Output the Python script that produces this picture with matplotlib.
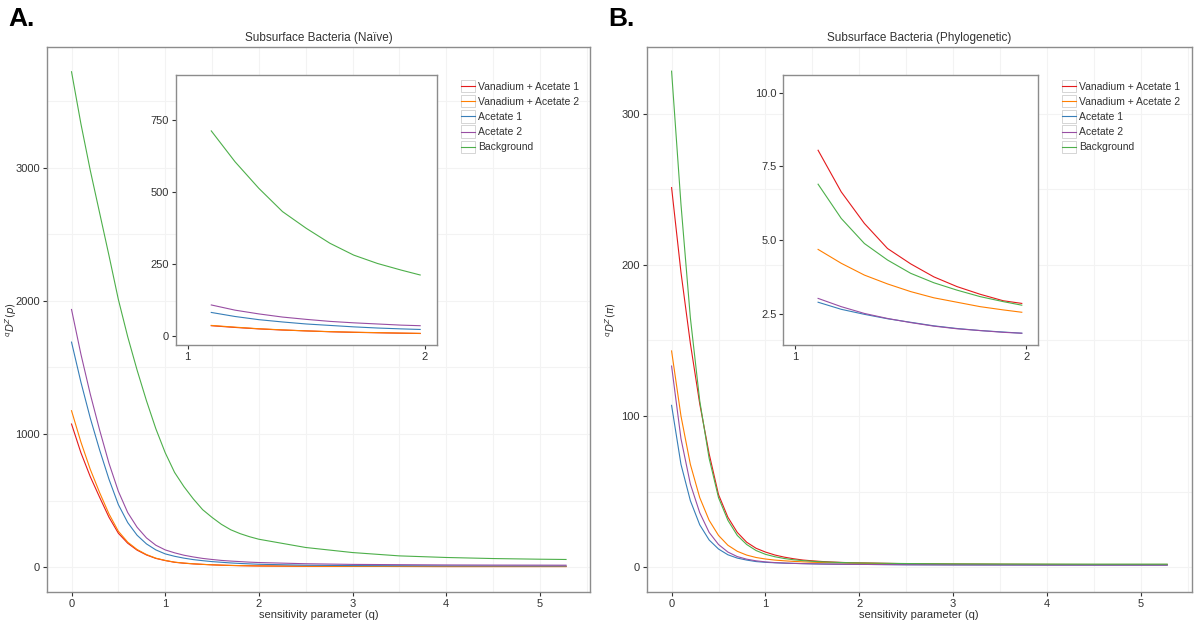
import numpy as np
import matplotlib
matplotlib.use("Agg")
import matplotlib.pyplot as plt
from matplotlib.ticker import MultipleLocator
from matplotlib.legend_handler import HandlerLine2D
from matplotlib.patches import Rectangle

plt.rcParams['font.family'] = ['Liberation Sans', 'DejaVu Sans']

# sensitivity parameter grid
Q = [0, 0.1, 0.2, 0.3, 0.4, 0.5, 0.6, 0.7, 0.8, 0.9, 1.0,
     1.1, 1.2, 1.3, 1.4, 1.5, 1.6, 1.7, 1.8, 1.9, 2.0,
     2.5, 3.0, 3.5, 4.0, 4.5, 5.0, 5.28]
Q_INSET = [1.1, 1.2, 1.3, 1.4, 1.5, 1.6, 1.7, 1.8, 1.9, 1.98]

SERIES = ['Vanadium + Acetate 1', 'Vanadium + Acetate 2', 'Acetate 1', 'Acetate 2', 'Background']
COLORS = ['#E41A1C', '#FF7F00', '#377EB8', '#984EA3', '#4DAF4A']

# A. naive diversity
naive_va1 = [1075, 860, 680, 525, 375, 255, 180, 128, 92, 66, 50,
             37, 30, 25, 21, 18, 15, 13, 11.5, 10.5, 9.5, 7, 6, 5.5, 5, 5, 5, 5]
naive_va2 = [1175, 940, 735, 560, 400, 270, 188, 133, 95, 68, 51,
             38, 31, 25.5, 21.5, 18, 15.5, 13.5, 12, 10.5, 9.5, 7, 6, 5.5, 5, 5, 5, 5]
naive_a1 = [1690, 1390, 1120, 880, 660, 470, 335, 240, 175, 130, 100,
            82, 68, 57, 49, 42, 37, 32, 28, 25, 22, 15, 12, 11, 10, 9.5, 9, 9]
naive_a2 = [1935, 1600, 1300, 1030, 780, 570, 410, 300, 220, 165, 130,
            108, 90, 77, 66, 58, 51, 46, 42, 38, 35, 26, 21, 19, 17, 16, 15.5, 15]
naive_bg = [3720, 3330, 2980, 2660, 2340, 2010, 1730, 1480, 1250, 1040, 860,
            712, 605, 513, 432, 374, 322, 281, 252, 229, 210, 148, 110, 85, 73, 65, 60, 58]

# B. phylogenetic diversity
phylo_va1 = [251, 195, 148, 108, 75, 48, 33, 23, 16.5, 12.5, 10.0,
             8.05, 6.64, 5.57, 4.72, 4.2, 3.76, 3.43, 3.17, 2.95, 2.84, 2.3, 2.0, 1.85, 1.75, 1.7, 1.65, 1.63]
phylo_va2 = [143, 100, 68, 46, 31, 21, 14.5, 10.5, 8.0, 6.4, 5.4,
             4.69, 4.22, 3.82, 3.52, 3.26, 3.05, 2.9, 2.75, 2.64, 2.55, 2.2, 2.0, 1.9, 1.85, 1.8, 1.8, 1.8]
phylo_a1 = [107, 68, 44, 28, 18, 12, 8.2, 6.0, 4.7, 3.7, 3.2,
            2.9, 2.66, 2.49, 2.34, 2.22, 2.1, 2.01, 1.94, 1.89, 1.85, 1.6, 1.5, 1.45, 1.4, 1.4, 1.4, 1.4]
phylo_a2 = [133, 85, 55, 36, 23, 15, 10, 7.0, 5.3, 4.2, 3.5,
            3.03, 2.75, 2.52, 2.35, 2.21, 2.09, 2.0, 1.94, 1.88, 1.85, 1.6, 1.5, 1.45, 1.4, 1.4, 1.4, 1.4]
phylo_bg = [328, 240, 165, 110, 72, 46, 31, 21, 15, 11, 8.5,
            6.9, 5.74, 4.89, 4.33, 3.88, 3.56, 3.31, 3.09, 2.92, 2.79, 2.4, 2.2, 2.1, 2.05, 2.0, 2.0, 2.0]

# inset readings, q = 1.1 .. 1.98
ins_naive_va1 = [36, 30, 25, 21, 18, 15, 13, 11.5, 10, 9]
ins_naive_va2 = [37, 31, 25.5, 21.5, 18, 15.5, 13.5, 12, 10.5, 9.5]
ins_naive_a1 = [82, 68, 57, 49, 42, 37, 32, 28, 25, 23]
ins_naive_a2 = [108, 90, 77, 66, 58, 51, 46, 42, 38, 36]
ins_naive_bg = [712, 605, 513, 432, 374, 322, 281, 252, 229, 212]

ins_phylo_va1 = [8.05, 6.64, 5.57, 4.72, 4.2, 3.76, 3.43, 3.17, 2.95, 2.86]
ins_phylo_va2 = [4.69, 4.22, 3.82, 3.52, 3.26, 3.05, 2.9, 2.75, 2.64, 2.56]
ins_phylo_a1 = [2.9, 2.66, 2.49, 2.34, 2.22, 2.1, 2.01, 1.94, 1.89, 1.85]
ins_phylo_a2 = [3.03, 2.75, 2.52, 2.35, 2.21, 2.09, 2.0, 1.94, 1.88, 1.85]
ins_phylo_bg = [6.9, 5.74, 4.89, 4.33, 3.88, 3.56, 3.31, 3.09, 2.92, 2.80]

BORDER = '#8c8c8c'
GRID = '#f3f3f3'
TXT = '#333333'


class BoxedLine(HandlerLine2D):
    # ggplot-style legend key: line inside a light grey box
    def create_artists(self, legend, orig_handle, xdescent, ydescent, width, height, fontsize, trans):
        arts = super().create_artists(legend, orig_handle, xdescent, ydescent, width, height, fontsize, trans)
        h = height * 1.7
        box = Rectangle((-xdescent, -ydescent - (h - height) / 2), width, h,
                        fc='white', ec='#cfcfcf', lw=0.6, transform=trans)
        return [box] + arts


def style(ax, fs=8):
    for s in ax.spines.values():
        s.set_color(BORDER); s.set_linewidth(1.0)
    ax.tick_params(colors=TXT, labelsize=fs, length=3, width=0.8, pad=2, which='major')
    ax.tick_params(which='minor', length=0)


def main_panel(ax, series, title, ylab, ylim, ystep):
    for ys, c, lab in zip(series, COLORS, SERIES):
        ax.plot(Q, ys, color=c, lw=0.8, label=lab)
    ax.set_xlim(-0.264, 5.54); ax.set_ylim(*ylim)
    ax.xaxis.set_major_locator(MultipleLocator(1)); ax.xaxis.set_minor_locator(MultipleLocator(0.5))
    ax.yaxis.set_major_locator(MultipleLocator(ystep)); ax.yaxis.set_minor_locator(MultipleLocator(ystep / 2))
    ax.grid(True, which='both', color=GRID, lw=0.8); ax.set_axisbelow(True)
    style(ax)
    ax.set_title(title, fontsize=8.5, color=TXT, pad=4)
    ax.set_xlabel('sensitivity parameter (q)', fontsize=8, color=TXT, labelpad=1)
    ax.set_ylabel(ylab, fontsize=7.5, color=TXT)
    ax.yaxis.set_label_coords(-0.052, 0.5)
    leg = ax.legend(loc='upper left', bbox_to_anchor=(0.755, 0.944), frameon=False, fontsize=7.5,
                    handlelength=1.3, handletextpad=0.3, labelspacing=0.5, borderaxespad=0,
                    handler_map={matplotlib.lines.Line2D: BoxedLine()})
    for t in leg.get_texts():
        t.set_color(TXT)


def inset(fig, rect, series, ylim, yticks, ylabels):
    ax = fig.add_axes(rect)
    ax.set_facecolor('white')
    for ys, c in zip(series, COLORS):
        ax.plot(Q_INSET, ys, color=c, lw=0.8)
    ax.set_xlim(0.95, 2.05); ax.set_ylim(*ylim)
    ax.set_xticks([1, 2]); ax.set_yticks(yticks); ax.set_yticklabels(ylabels)
    style(ax)
    return ax


fig = plt.figure(figsize=(12, 6.23), dpi=100)
axA = fig.add_axes([0.039, 0.0498, 0.453, 0.8748])
axB = fig.add_axes([0.539, 0.0498, 0.454, 0.8748])

main_panel(axA, [naive_va1, naive_va2, naive_a1, naive_a2, naive_bg],
           'Subsurface Bacteria (Naïve)', r'$^{q}D^{Z}(p)$', (-186, 3906), 1000)
main_panel(axB, [phylo_va1, phylo_va2, phylo_a1, phylo_a2, phylo_bg],
           'Subsurface Bacteria (Phylogenetic)', r'$^{q}D^{Z}(\pi)$', (-16.4, 344), 100)

inset(fig, [0.1464, 0.4462, 0.2176, 0.4334],
      [ins_naive_va1, ins_naive_va2, ins_naive_a1, ins_naive_a2, ins_naive_bg],
      (-31, 906), [0, 250, 500, 750], ['0', '250', '500', '750'])
inset(fig, [0.6528, 0.4462, 0.2122, 0.4334],
      [ins_phylo_va1, ins_phylo_va2, ins_phylo_a1, ins_phylo_a2, ins_phylo_bg],
      (1.45, 10.6), [2.5, 5.0, 7.5, 10.0], ['2.5', '5.0', '7.5', '10.0'])

fig.text(0.007, 0.97, 'A.', fontsize=19, fontweight='bold', va='center', ha='left')
fig.text(0.507, 0.97, 'B.', fontsize=19, fontweight='bold', va='center', ha='left')

fig.savefig('out.png', dpi=100)
